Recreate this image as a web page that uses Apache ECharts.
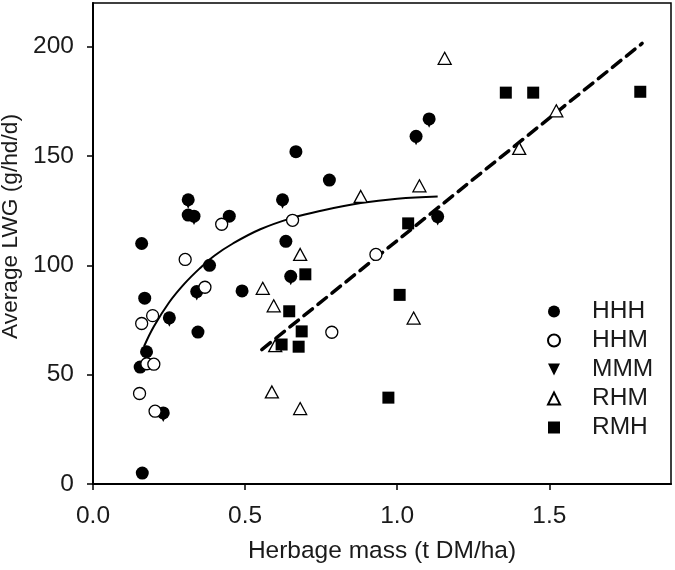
<!DOCTYPE html>
<html>
<head>
<meta charset="utf-8">
<script src="https://cdn.jsdelivr.net/npm/echarts@6/dist/echarts.min.js"></script>
<style>
html,body{margin:0;padding:0;background:#fff;}
#chart{width:675px;height:570px;}
</style>
</head>
<body>
<div id="chart"></div>
<script>
// ---- data ----
var xTicks = [0, 0.5, 1.0, 1.5];
var yTicks = [0, 50, 100, 150, 200];

var HHH = [[0.16,110],[0.17,85],[0.176,60.5],[0.155,53.5],[0.162,5],[0.313,130],[0.313,123],[0.332,122.5],
  [0.448,122.5],[0.383,100],[0.341,88],[0.49,88.3],[0.345,69.5],[0.667,152],[0.777,139],[0.623,130],
  [0.634,111],[0.65,95],[1.062,159],[1.105,167],[1.133,122.3],[0.251,76],[0.231,32.5]];
var HHM = [[0.303,102.7],[0.423,118.8],[0.368,90],[0.16,73.4],[0.196,77],[0.177,55],[0.2,54.8],
  [0.153,41.4],[0.204,33.3],[0.656,120.6],[0.785,69.4],[0.93,105]];
var MMM = [[0.231,30.7],[0.313,128.2],[0.332,120.7],[0.251,74.2],[0.341,86.2],[0.623,128.2],
  [0.65,93.2],[1.133,120.5],[1.062,157.2],[1.105,165.2]];
var RHM = [[0.558,89.5],[0.594,81.5],[0.599,63.3],[0.588,42.1],[0.681,34.5],[0.681,105],[0.88,131.5],
  [1.073,136.4],[1.156,194.7],[1.054,75.9],[1.401,153.5],[1.523,170.7]];
var RMH = [[0.645,79],[0.62,63.8],[0.686,69.8],[0.676,62.8],[0.698,95.9],[1.036,119.2],[1.008,86.5],
  [0.971,39.5],[1.357,179],[1.447,179],[1.799,179.4]];

var curveFit = [[0.168,63],[0.2,72],[0.25,83],[0.3,91.5],[0.35,98.5],[0.4,104.5],[0.46,110],
  [0.55,116.5],[0.65,121.5],[0.75,125],[0.88,128.5],[1.0,130.5],[1.133,131.5]];
var linearFit = [[0.555,61.5],[1.805,201.5]];

var FONT = 'Liberation Sans, Arial, sans-serif';
var TXT = '#1a1a1a';
var FS = 24.5;

var chart = echarts.init(document.getElementById('chart'), null, {renderer:'canvas'});
chart.setOption({
  backgroundColor:'#fff',
  animation:false,
  textStyle:{fontFamily:FONT, color:TXT},
  grid:{left:93, right:4, top:3, bottom:86, show:true, borderColor:'#000', borderWidth:1.5,
    containLabel:false, outerBoundsMode:'none'},
  legend:{
    orient:'vertical', left:542, top:294,
    data:['HHH','HHM','MMM','RHM','RMH'],
    itemWidth:12, itemHeight:12, itemGap:4,
    textStyle:{fontFamily:FONT, fontSize:FS, color:TXT, lineHeight:24, padding:[0,0,0,27]},
    selectedMode:false
  },
  xAxis:{
    type:'value', min:0, max:1.9,
    name:'Herbage mass (t DM/ha)', nameLocation:'middle', nameGap:55,
    nameTextStyle:{fontFamily:FONT, fontSize:FS, color:TXT},
    axisLine:{show:true, onZero:false, lineStyle:{color:'#000', width:2}},
    axisTick:{show:true, inside:false, length:6, lineStyle:{color:'#000', width:1.5}, customValues:xTicks},
    axisLabel:{fontFamily:FONT, fontSize:FS, color:TXT, margin:20, customValues:xTicks,
      formatter:function(v){return v.toFixed(1);}},
    splitLine:{show:false}
  },
  yAxis:{
    type:'value', min:0, max:220,
    name:'Average LWG (g/hd/d)', nameLocation:'middle', nameGap:48,
    nameTextStyle:{fontFamily:FONT, fontSize:22.7, color:TXT, padding:[0,0,0,34]},
    axisLine:{show:true, onZero:false, lineStyle:{color:'#000', width:2}},
    axisTick:{show:true, inside:false, length:6, lineStyle:{color:'#000', width:1.5}, customValues:yTicks},
    axisLabel:{fontFamily:FONT, fontSize:FS, color:TXT, margin:19, customValues:yTicks},
    splitLine:{show:false}
  },
  series:[
    {name:'curve', type:'line', data:curveFit, smooth:0.4, symbol:'none', silent:true,
      lineStyle:{color:'#000', width:2}, z:1},
    {name:'linear', type:'line', data:linearFit, symbol:'none', silent:true,
      lineStyle:{color:'#000', width:3.5, type:[11,7], cap:'round'}, z:1},
    {name:'MMM', type:'scatter', data:MMM, symbol:'path://M0,0 L10,0 L5,10 Z', symbolSize:10,
      itemStyle:{color:'#000', opacity:1}, z:3},
    {name:'HHH', type:'scatter', data:HHH, symbol:'circle', symbolSize:13,
      itemStyle:{color:'#000', opacity:1}, z:4},
    {name:'HHM', type:'scatter', data:HHM, symbol:'circle', symbolSize:12,
      itemStyle:{color:'#fff', borderColor:'#000', borderWidth:1.3, opacity:1}, z:5},
    {name:'RHM', type:'scatter', data:RHM, symbol:'triangle', symbolSize:[13,12],
      itemStyle:{color:'#fff', borderColor:'#000', borderWidth:1.3, opacity:1}, z:5},
    {name:'RMH', type:'scatter', data:RMH, symbol:'rect', symbolSize:12,
      itemStyle:{color:'#000', opacity:1}, z:6}
  ]
});
</script>
</body>
</html>
